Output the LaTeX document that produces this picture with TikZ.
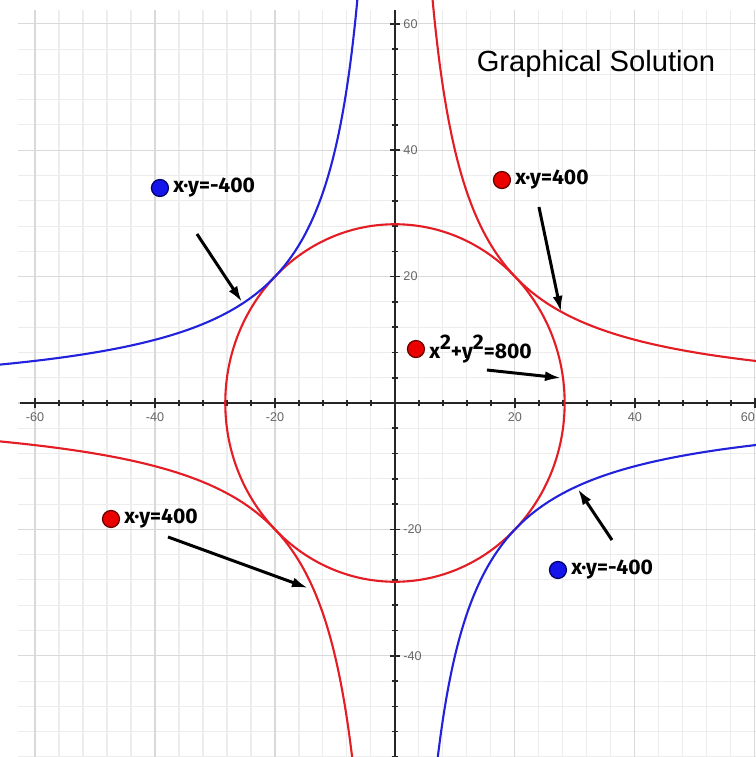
\documentclass[tikz,border=0pt]{standalone}
\usepackage{fontspec}
\setmainfont{Liberation Sans}
\newfontfamily\notefont{Fira Sans}
\usetikzlibrary{arrows.meta, positioning, math}
\definecolor{curvered}{RGB}{228,28,36}
\definecolor{curveblue}{RGB}{34,34,220}
\definecolor{spotred}{RGB}{235,0,0}
\definecolor{spotblue}{RGB}{20,20,235}

\begin{document}
\begin{tikzpicture}[x=0.06cm, y=0.0632cm,
  minorgrid/.style={draw=black!7, line width=0.3pt},
  majorgrid/.style={draw=black!15, line width=0.3pt},
  axisline/.style={line width=0.45pt, black!85},
  ticklabel/.style={text=black!60, font=\fontsize{3.6}{4}\selectfont, inner sep=0pt},
  curve/.style={line width=0.6pt},
  spot/.style={circle, minimum size=0.17cm, inner sep=0pt, line width=0.35pt},
  note/.style={font=\notefont\bfseries\fontsize{6}{7}\selectfont, inner sep=1pt},
  pointer/.style={-{Latex[length=0.16cm, width=0.1cm]}, line width=0.85pt}
]
\tikzmath{
\R=sqrt(800);
}
\useasboundingbox (-65.833,-56.013) rectangle (60.167,63.766);
\clip (-65.833,-56.013) rectangle (60.167,63.766);

% grid
\foreach \x in {-60,-56,...,60}
  \draw[minorgrid] (\x,-56.1) -- (\x,62.2);
\foreach \y in {-56,-52,...,60}
  \draw[minorgrid] (-62.8,\y) -- (60.2,\y);
\foreach \x in {-60,-40,...,60}
  \draw[majorgrid] (\x,-56.1) -- (\x,62.2);
\foreach \y in {-40,-20,...,60}
  \draw[majorgrid] (-62.8,\y) -- (60.2,\y);

% axes
\draw[axisline] (-62.5,0) -- (60.2,0);
\draw[axisline] (0,62.2) -- (0,-56.1);
\foreach \x in {-60,-56,...,60}
  \draw[axisline] (\x,0) ++(0,-0.03cm) -- ++(0,0.06cm);
\foreach \y in {-56,-52,...,60}
  \draw[axisline] (0,\y) ++(-0.03cm,0) -- ++(0.06cm,0);
\foreach \x in {-60,-40,-20,20,40}{
  \draw[axisline] (\x,0) ++(0,-0.05cm) -- ++(0,0.1cm);
  \node[ticklabel] at (\x,-2.2) {\x};
}
\draw[axisline] (60,0) ++(0,-0.05cm) -- ++(0,0.1cm);
\node[ticklabel, anchor=east] at (60.1,-2.2) {60};
\foreach \y in {-40,-20,20,40,60}{
  \draw[axisline] (0,\y) ++(-0.05cm,0) -- ++(0.1cm,0);
  \node[ticklabel, anchor=west] at (1.3,\y) {\y};
}

% curves
\draw[curve, curvered] (0,0) circle [radius=\R];
\draw[curve, curvered] plot[domain=6:61, samples=300] (\x,{400/\x});
\draw[curve, curvered] plot[domain=-66:-7, samples=300] (\x,{400/\x});
\draw[curve, curveblue] plot[domain=-66:-6, samples=300] (\x,{-400/\x});
\draw[curve, curveblue] plot[domain=7:61, samples=300] (\x,{-400/\x});

% title
\node[font=\fontsize{8.3}{10}\selectfont, anchor=base] (heading) at (33.5,52.4) {Graphical Solution};

% notes
\node[spot, fill=spotblue, draw=blue!40!black] (spotA) at (-39.17,34.02) {};
\node[note, right=0pt of spotA] (noteA) {x·y=-400};
\node[spot, fill=spotred, draw=red!40!black] (spotB) at (17.83,35.28) {};
\node[note, right=0pt of spotB] (noteB) {x·y=400};
\node[spot, fill=spotred, draw=red!40!black] (spotC) at (3.5,8.54) {};
\node[note, right=0pt of spotC] (noteC) {x\raisebox{0.45em}{2}+y\raisebox{0.45em}{2}=800};
\node[spot, fill=spotred, draw=red!40!black] (spotD) at (-47.33,-18.35) {};
\node[note, right=0pt of spotD] (noteD) {x·y=400};
\node[spot, fill=spotblue, draw=blue!40!black] (spotE) at (27.17,-26.42) {};
\node[note, right=0pt of spotE] (noteE) {x·y=-400};

% arrows
\coordinate (tailA) at (-33.0,26.74);
\coordinate (headA) at (-25.5,15.98);
\coordinate (tailB) at (24.0,31.01);
\coordinate (headB) at (27.67,14.4);
\coordinate (tailC) at (15.33,5.22);
\coordinate (headC) at (27.67,3.96);
\coordinate (tailD) at (-37.83,-21.2);
\coordinate (headD) at (-14.5,-29.27);
\coordinate (tailE) at (36.17,-21.68);
\coordinate (headE) at (30.5,-13.61);
\draw[pointer] (tailA) -- (headA);
\draw[pointer] (tailB) -- (headB);
\draw[pointer] (tailC) -- (headC);
\draw[pointer] (tailD) -- (headD);
\draw[pointer] (tailE) -- (headE);
\end{tikzpicture}
\end{document}
